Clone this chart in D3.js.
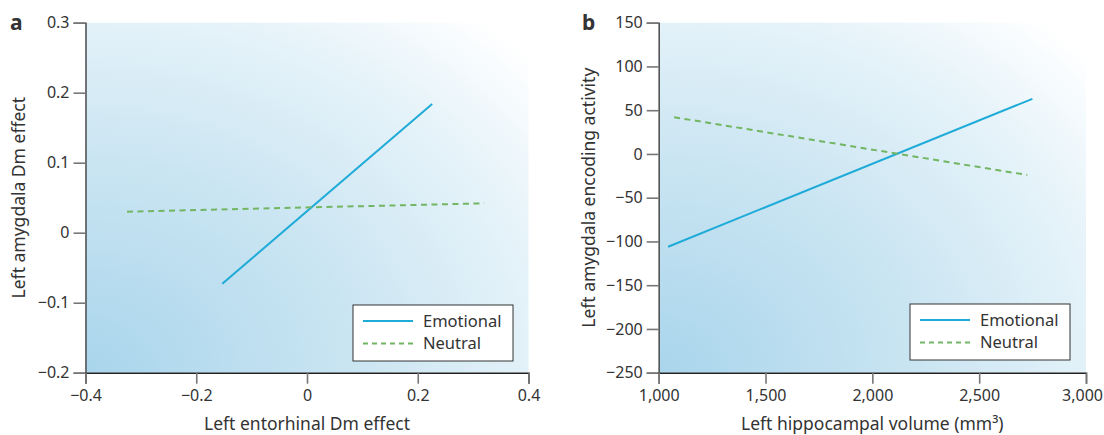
<!DOCTYPE html>
<html>
<head>
<meta charset="utf-8">
<script src="https://cdn.jsdelivr.net/npm/d3@7"></script>
<style>
  body { margin: 0; background: #fff; }
  svg text { font-family: "Noto Sans", "Open Sans", sans-serif; fill: #333; }
</style>
</head>
<body>
<div id="chart"></div>
<script>
// panel a
let aSeries = ['Emotional', 'Neutral'];
let aEmotional = [[-0.153, -0.073], [0.226, 0.184]];
let aNeutral = [[-0.325, 0.030], [0.320, 0.042]];
let aXTicks = [-0.4, -0.2, 0, 0.2, 0.4];
let aYTicks = [-0.2, -0.1, 0, 0.1, 0.2, 0.3];

// panel b
let bEmotional = [[1044, -106], [2749, 63]];
let bNeutral = [[1072, 42], [2725, -24]];
let bXTicks = [1000, 1500, 2000, 2500, 3000];
let bYTicks = [-250, -200, -150, -100, -50, 0, 50, 100, 150];

{
  let sizex = 1104,
      sizey = 435;

  var svg = d3.select("#chart")
    .append("svg")
      .attr("width", sizex)
      .attr("height", sizey);

  // background gradient, dark blue bottom-left to white top-right
  var defs = svg.append("defs");
  var grad = defs.append("radialGradient")
    .attr("id", "bg")
    .attr("cx", "0%").attr("cy", "100%")
    .attr("r", "135%");
  grad.append("stop").attr("offset", "0%").attr("stop-color", "#a9d5ec");
  grad.append("stop").attr("offset", "45%").attr("stop-color", "#cae5f2");
  grad.append("stop").attr("offset", "80%").attr("stop-color", "#e8f4fa");
  grad.append("stop").attr("offset", "100%").attr("stop-color", "#ffffff");

  function panel(opt) {
    var g = svg.append("g");
    var x = d3.scaleLinear().domain(opt.xdom).range(opt.xr);
    var y = d3.scaleLinear().domain(opt.ydom).range(opt.yr);

    g.append("rect")
      .attr("x", x.range()[0])
      .attr("y", y.range()[1])
      .attr("width", x.range()[1] - x.range()[0])
      .attr("height", y.range()[0] - y.range()[1])
      .attr("fill", "url(#bg)");

    // y axis
    var ya = g.append("g")
      .attr("transform", "translate(" + x.range()[0] + ",0)")
      .call(d3.axisLeft(y).tickValues(opt.yticks).tickFormat(opt.yfmt)
        .tickSize(12).tickPadding(4));
    ya.attr("font-family", null).attr("font-size", null);
    ya.select(".domain").attr("stroke", "#555").attr("stroke-width", 1.6);
    ya.selectAll(".tick line").attr("stroke", "#777").attr("stroke-width", 1.6);
    ya.selectAll("text").style("font-size", "16px").attr("fill", "#333");

    // x axis
    var xa = g.append("g")
      .attr("transform", "translate(0," + y.range()[0] + ")")
      .call(d3.axisBottom(x).tickValues(opt.xticks).tickFormat(opt.xfmt)
        .tickSize(11).tickPadding(6));
    xa.attr("font-family", null).attr("font-size", null);
    xa.select(".domain").attr("stroke", "#222").attr("stroke-width", 1.4);
    xa.selectAll(".tick line").attr("stroke", "#777").attr("stroke-width", 1.6);
    xa.selectAll("text").style("font-size", "16px").attr("fill", "#333");
    if (opt.lastShift) {
      xa.selectAll(".tick text").filter((d, i, n) => i === n.length - 1)
        .attr("dx", opt.lastShift);
    }

    var line = d3.line().x(d => x(d[0])).y(d => y(d[1]));
    g.append("path").datum(opt.emo)
      .attr("d", line)
      .attr("fill", "none")
      .attr("stroke", "#1fabd8")
      .attr("stroke-width", 2);
    g.append("path").datum(opt.neu)
      .attr("d", line)
      .attr("fill", "none")
      .attr("stroke", "#72b562")
      .attr("stroke-width", 2)
      .attr("stroke-dasharray", "6,4.5");

    // legend
    var lg = g.append("g").attr("transform", "translate(" + opt.leg[0] + "," + opt.leg[1] + ")");
    lg.append("rect")
      .attr("width", 160).attr("height", 56)
      .attr("fill", "#fff").attr("stroke", "#333").attr("stroke-width", 1);
    aSeries.forEach(function(s, i) {
      lg.append("line")
        .attr("x1", 10).attr("x2", 60)
        .attr("y1", 16 + i * 22.5).attr("y2", 16 + i * 22.5)
        .attr("stroke", i ? "#72b562" : "#1fabd8")
        .attr("stroke-width", 2)
        .attr("stroke-dasharray", i ? "5,4" : null);
      lg.append("text")
        .attr("x", 70).attr("y", 16 + i * 22.5)
        .attr("dy", "0.35em")
        .style("font-size", "16.5px")
        .text(s);
    });

    // titles
    var xm = (x.range()[0] + x.range()[1]) / 2;
    g.append("text")
      .attr("x", xm).attr("y", 430)
      .style("font-size", "17.5px")
      .style("text-anchor", "middle")
      .text(opt.xlab);
    g.append("text")
      .attr("transform", "translate(" + opt.ylabx + "," + ((y.range()[0] + y.range()[1]) / 2) + ")rotate(-90)")
      .style("font-size", "17.5px")
      .style("text-anchor", "middle")
      .text(opt.ylab);
    g.append("text")
      .attr("x", opt.letter[0]).attr("y", opt.letter[1])
      .style("font-size", "21px")
      .style("font-weight", "bold")
      .attr("fill", "#111")
      .text(opt.name);
    return g;
  }

  var f1 = d3.format(".1f");
  panel({
    name: "a", letter: [10, 30],
    xdom: [-0.4, 0.4], xr: [85.5, 528.5],
    ydom: [-0.2, 0.3], yr: [372.7, 22.7],
    xticks: aXTicks, yticks: aYTicks,
    xfmt: d => d === 0 ? "0" : f1(d).replace("-", "\u2212"),
    yfmt: d => Math.abs(d) < 1e-9 ? "0" : f1(d).replace("-", "\u2212"),
    emo: aEmotional, neu: aNeutral,
    leg: [353, 305],
    xlab: "Left entorhinal Dm effect",
    ylab: "Left amygdala Dm effect", ylabx: 25
  });

  panel({
    name: "b", letter: [582, 30],
    xdom: [1000, 3000], xr: [658.7, 1086],
    ydom: [-250, 150], yr: [372.7, 22.7],
    xticks: bXTicks, yticks: bYTicks,
    xfmt: d3.format(","),
    yfmt: d => String(d).replace("-", "\u2212"),
    emo: bEmotional, neu: bNeutral,
    leg: [910, 304], lastShift: -4,
    xlab: "Left hippocampal volume (mm\u00b3)",
    ylab: "Left amygdala encoding activity", ylabx: 595
  });
}
</script>
</body>
</html>
